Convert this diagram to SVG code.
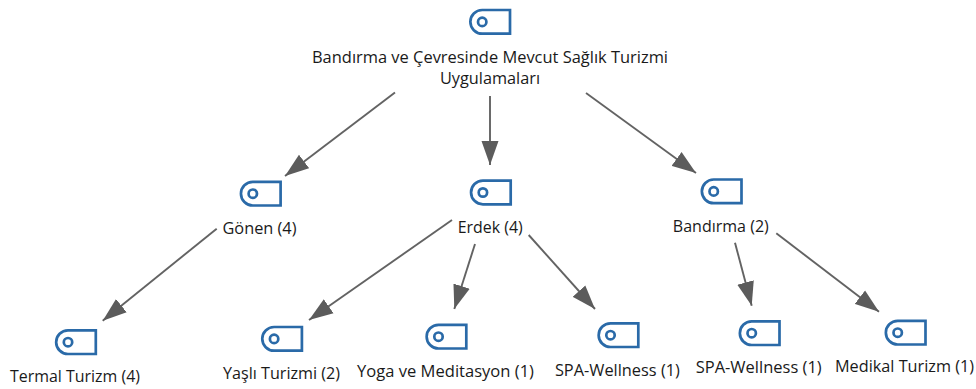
<svg xmlns="http://www.w3.org/2000/svg" width="976" height="389" viewBox="0 0 976 389">
<style>
text{font-family:"Open Sans","Noto Sans","Liberation Sans",sans-serif;font-size:16.4px;fill:#1a1a1a;text-anchor:middle}
.ico{fill:none;stroke:#2a6aa8;stroke-width:2.7}
.edge{fill:none;stroke:#636363;stroke-width:1.9;marker-end:url(#arr)}
</style>
<defs>
<marker id="arr" markerUnits="userSpaceOnUse" markerWidth="25" markerHeight="18" refX="24" refY="9" orient="auto"><path d="M0 0.5L24 9L0 17.5Z" fill="#5c5c5c"/></marker>
<g id="tag"><path class="ico" d="M41.3 1.3V25H13.5A11.85 11.85 0 0 1 13.5 1.3Z"/><circle class="ico" cx="13.5" cy="13.2" r="4.2"/></g>
</defs>
<g id="connectors">
<line class="edge" x1="395" y1="92.5" x2="285" y2="176"/>
<line class="edge" x1="490" y1="96" x2="490" y2="165"/>
<line class="edge" x1="586" y1="93" x2="696" y2="173"/>
<line class="edge" x1="216.7" y1="228.7" x2="102.7" y2="320.7"/>
<line class="edge" x1="452" y1="220" x2="309" y2="320"/>
<line class="edge" x1="475" y1="244" x2="454.3" y2="309"/>
<line class="edge" x1="528.7" y1="235" x2="595" y2="309"/>
<line class="edge" x1="735" y1="242.7" x2="751.7" y2="305.7"/>
<line class="edge" x1="776.3" y1="233.3" x2="879" y2="311.7"/>
</g>
<g id="root"><use href="#tag" x="468.7" y="8.7"/><text x="490" y="63" textLength="356" lengthAdjust="spacingAndGlyphs">Bandırma ve Çevresinde Mevcut Sağlık Turizmi</text><text x="490" y="84" textLength="100" lengthAdjust="spacingAndGlyphs">Uygulamaları</text></g>
<g id="gonen"><use href="#tag" x="239.3" y="180.5"/><text x="259.5" y="234" textLength="74" lengthAdjust="spacingAndGlyphs">Gönen (4)</text></g>
<g id="erdek"><use href="#tag" x="469.4" y="179.3"/><text x="490.2" y="232.7" textLength="65" lengthAdjust="spacingAndGlyphs">Erdek (4)</text></g>
<g id="bandirma"><use href="#tag" x="700.2" y="178.2"/><text x="720.8" y="231.7" textLength="96" lengthAdjust="spacingAndGlyphs">Bandırma (2)</text></g>
<g id="termal"><use href="#tag" x="54.5" y="329"/><text x="75" y="382" textLength="130" lengthAdjust="spacingAndGlyphs">Termal Turizm (4)</text></g>
<g id="yasli"><use href="#tag" x="260.6" y="325.7"/><text x="281.5" y="379" textLength="117" lengthAdjust="spacingAndGlyphs">Yaşlı Turizmi (2)</text></g>
<g id="yoga"><use href="#tag" x="425" y="323.5"/><text x="445.5" y="377" textLength="177" lengthAdjust="spacingAndGlyphs">Yoga ve Meditasyon (1)</text></g>
<g id="spa1"><use href="#tag" x="597" y="322"/><text x="617.4" y="376" textLength="125" lengthAdjust="spacingAndGlyphs">SPA-Wellness (1)</text></g>
<g id="spa2"><use href="#tag" x="738.2" y="320"/><text x="758.7" y="373.3" textLength="126" lengthAdjust="spacingAndGlyphs">SPA-Wellness (1)</text></g>
<g id="medikal"><use href="#tag" x="884.2" y="319.5"/><text x="904.5" y="371.7" textLength="139" lengthAdjust="spacingAndGlyphs">Medikal Turizm (1)</text></g>
</svg>
